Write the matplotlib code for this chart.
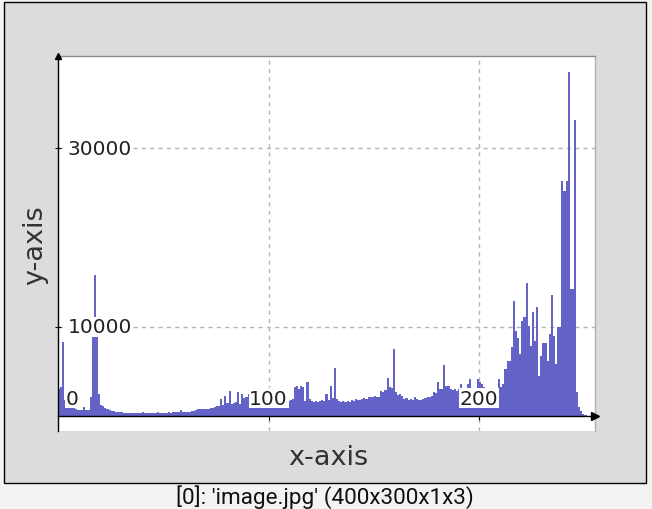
import matplotlib
matplotlib.use("Agg")
import matplotlib.pyplot as plt
from matplotlib.patches import Rectangle
import numpy as np

# Histogram counts for intensity bins 0..255
bins = list(range(256))
counts = [
    3000, 3300, 8300, 1800, 1500, 1300, 1100, 900, 800, 750,          # 0-9
    700, 650, 1000, 700, 650, 2200, 9400, 15800, 9200, 2500,          # 10-19
    1300, 1100, 900, 800, 700, 600, 550, 500, 450, 450,               # 20-29
    420, 400, 380, 400, 350, 380, 340, 360, 330, 350,                 # 30-39
    500, 320, 340, 360, 330, 350, 380, 520, 360, 380,                 # 40-49
    400, 380, 420, 400, 450, 420, 450, 480, 650, 460,                 # 50-59
    500, 520, 500, 550, 580, 750, 800, 780, 820, 850,                 # 60-69
    800, 850, 900, 950, 1000, 1150, 1200, 1950, 1300, 2300,           # 70-79
    1500, 2800, 1400, 1500, 1600, 2700, 1400, 2500, 2000, 2200,       # 80-89
    2500, 1700, 1600, 1500, 1650, 1550, 1500, 1450, 1600, 1500,       # 90-99
    1550, 1650, 1500, 1550, 1600, 1700, 1650, 1600, 1700, 1700,       # 100-109
    1800, 1950, 3300, 3400, 3000, 3400, 3300, 1700, 3850, 1900,       # 110-119
    1700, 1600, 1700, 1650, 1700, 1800, 1750, 2500, 1800, 3400,       # 120-129
    2000, 5400, 1900, 1700, 1600, 1750, 1650, 1700, 1600, 1800,       # 130-139
    1750, 1900, 1850, 1800, 1900, 2000, 1900, 2200, 2100, 2200,       # 140-149
    2300, 2100, 2200, 2800, 2700, 2900, 4300, 3300, 3200, 7500,       # 150-159
    2700, 2400, 2500, 2300, 1900, 2000, 1850, 1900, 1800, 2200,       # 160-169
    1900, 1850, 1800, 1950, 2000, 2200, 2100, 2300, 2700, 2600,       # 170-179
    3800, 3000, 3100, 5700, 3400, 3400, 3000, 2900, 3100, 2800,       # 180-189
    3000, 3600, 2400, 2500, 3600, 4200, 2400, 2300, 2400, 4200,       # 190-199
    3800, 3600, 3300, 3000, 2800, 2600, 2700, 2800, 3000, 4200,       # 200-209
    3300, 3600, 5300, 6200, 6200, 7700, 12900, 9500, 8700, 7000,      # 210-219
    10600, 11100, 14900, 10100, 7900, 11700, 8400, 12200, 4500, 6700, # 220-229
    8200, 8200, 6200, 9200, 13600, 9000, 5900, 10000, 10000, 26300,   # 230-239
    25200, 26300, 38500, 14200, 14200, 33100, 2700, 1000, 600, 300,   # 240-249
    150, 0, 0, 0, 0, 0,                                               # 250-255
]

x_ticks = [100, 200]
x_tick_labels = ["100", "200"]
y_ticks = [10000, 30000]
y_tick_labels = ["10000", "30000"]

W, H = 652, 510
fig = plt.figure(figsize=(W / 100, H / 100), dpi=100, facecolor="#f3f3f3")

# grey panel with black border
fig.patches.append(Rectangle((4 / W, (H - 484) / H), (646 - 4) / W, (484 - 3) / H,
                             transform=fig.transFigure, facecolor="#dcdcdc",
                             edgecolor="black", lw=1, zorder=-10))

ax = fig.add_axes([58 / W, (H - 432) / H, (595 - 58) / W, (432 - 57) / H])
ax.set_zorder(1)
ax.set_facecolor("white")
ax.bar(bins, counts, width=1.0, align="edge", color="#6464c8", linewidth=0, zorder=2)

ax.set_xlim(0, 255)
ax.set_ylim(-1650, 40300)

ax.set_axisbelow(True)
ax.grid(True, linestyle=(0, (3, 3)), color="#b4b4b4", lw=1)

ax.set_xticks(x_ticks)
ax.set_yticks(y_ticks)
ax.tick_params(axis="x", direction="inout", length=6, color="black", labelbottom=False)
ax.tick_params(axis="y", direction="inout", length=4, color="black", labelleft=False)

ax.spines["bottom"].set_position(("data", 0))
ax.spines["bottom"].set_color("black")
ax.spines["left"].set_color("black")
ax.spines["top"].set_color("#8a8a8a")
ax.spines["right"].set_color("#b0b0b0")
for s in ax.spines.values():
    s.set_linewidth(1)
    s.set_zorder(3)

# arrows
ax.plot([255], [0], marker=">", color="black", ms=6, clip_on=False, zorder=5)
ax.plot([0], [40300], marker="^", color="black", ms=5, clip_on=False, zorder=5)

lab_kw = dict(fontsize=14.5, color="#222222", zorder=4,
              bbox=dict(facecolor="white", edgecolor="none", pad=0.5))
ax.text(6.8, 2000, "0", ha="center", va="center", **lab_kw)
for xv, lab in zip(x_ticks, x_tick_labels):
    ax.text(xv, 2000, lab, ha="center", va="center", **lab_kw)
for yv, lab in zip(y_ticks, y_tick_labels):
    ax.text(4.5, yv, lab, ha="left", va="center", **lab_kw)

fig.text(328 / W, 1 - 458 / H, "x-axis", ha="center", va="center",
         fontsize=19.5, color="#333333")
fig.text(35 / W, 1 - 245 / H, "y-axis", ha="center", va="center",
         fontsize=19.5, color="#333333", rotation=90)

fig.text(325 / W, 1 - 497 / H, "[0]: 'image.jpg' (400x300x1x3)", ha="center",
         va="center", fontsize=16.2, family="Roboto", color="#111111")

fig.savefig("out.png", dpi=100, facecolor=fig.get_facecolor())
